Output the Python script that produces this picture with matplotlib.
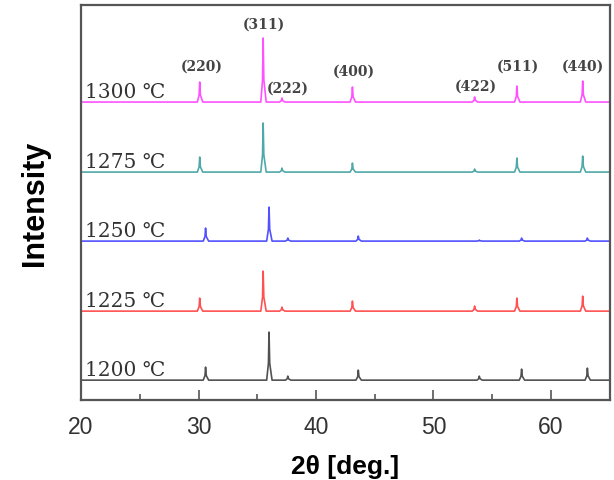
import matplotlib
matplotlib.use('Agg')
import matplotlib.pyplot as plt
import numpy as np

# sample temperatures, from bottom to top
temps = ['1200 ℃', '1225 ℃', '1250 ℃', '1275 ℃', '1300 ℃']
offsets = [0, 69, 139, 208, 278]
colors = ['#333333', '#ff3333', '#3333ff', '#339999', '#ff33ff']

# peak positions (2theta) per sample, order: 220, 311, 222, 400, 422, 511, 440
pos_1200 = [30.6, 36.0, 37.6, 43.6, 53.9, 57.5, 63.1]
pos_1225 = [30.1, 35.5, 37.1, 43.1, 53.5, 57.1, 62.7]
pos_1250 = [30.6, 36.0, 37.6, 43.6, 53.9, 57.5, 63.1]
pos_1275 = [30.1, 35.5, 37.1, 43.1, 53.5, 57.1, 62.7]
pos_1300 = [30.1, 35.5, 37.1, 43.1, 53.5, 57.1, 62.7]

# peak heights (arb. units)
h_1200 = [13, 48, 4, 10, 4, 11, 12]
h_1225 = [13, 40, 4, 10, 5, 13, 15]
h_1250 = [13, 34, 3, 5, 1, 3, 3]
h_1275 = [15, 49, 4, 9, 3, 14, 16]
h_1300 = [20, 64, 4, 15, 5, 16, 21]

hkl = ['(220)', '(311)', '(222)', '(400)', '(422)', '(511)', '(440)']
hkl_x = [30.3, 35.6, 37.6, 43.2, 53.6, 57.2, 62.7]
hkl_y = [314, 356, 292, 309, 294, 314, 314]

x_min, x_max = 20, 65


def profile(pos, heights, w=0.2):
    xs = [x_min]
    ys = [0]
    for p, h in zip(pos, heights):
        xs += [p - w, p - 0.05, p, p + 0.06, p + w * 1.3]
        ys += [0, h * 0.35, h, h * 0.35, 0]
    xs.append(x_max)
    ys.append(0)
    return np.array(xs), np.array(ys)


if __name__ == '__main__':
    fig = plt.figure(figsize=(6.14, 4.81), dpi=100)
    ax = fig.add_axes([0.132, 0.166, 0.861, 0.8215])

    all_pos = [pos_1200, pos_1225, pos_1250, pos_1275, pos_1300]
    all_h = [h_1200, h_1225, h_1250, h_1275, h_1300]
    for i in range(len(temps)):
        xs, ys = profile(all_pos[i], all_h[i])
        ax.plot(xs, ys + offsets[i], color=colors[i], lw=1.2, alpha=0.85)
        ax.text(20.3, offsets[i] + 5, temps[i], fontsize=14.5,
                family=['DejaVu Serif', 'DejaVu Sans'], color='#333333',
                va='baseline', ha='left')

    for lab, lx, ly in zip(hkl, hkl_x, hkl_y):
        ax.text(lx, ly, lab, fontsize=10, family='DejaVu Serif',
                fontweight='bold', color='#444444', ha='center', va='center')

    ax.set_xlim(x_min, x_max)
    ax.set_ylim(-20, 375)
    ax.set_xticks([20, 30, 40, 50, 60])
    ax.set_xticks([25, 35, 45, 55, 65], minor=True)
    ax.set_yticks([])
    ax.tick_params(axis='x', which='major', direction='in', length=7,
                   width=1.2, labelsize=16.5, colors='#555555',
                   labelcolor='#333333', pad=11, top=False)
    ax.tick_params(axis='x', which='minor', direction='in', length=4,
                   width=1.2, colors='#555555', top=False)
    for sp in ax.spines.values():
        sp.set_color('#555555')
        sp.set_linewidth(1.6)
    for lbl in ax.get_xticklabels():
        lbl.set_family('Liberation Sans')

    ax.set_xlabel('2θ [deg.]', fontsize=19, fontweight='bold',
                  family='Liberation Sans', labelpad=11)
    ax.set_ylabel('Intensity', fontsize=22, fontweight='bold',
                  family='Liberation Sans', labelpad=22)

    fig.savefig('out.png', dpi=100)
